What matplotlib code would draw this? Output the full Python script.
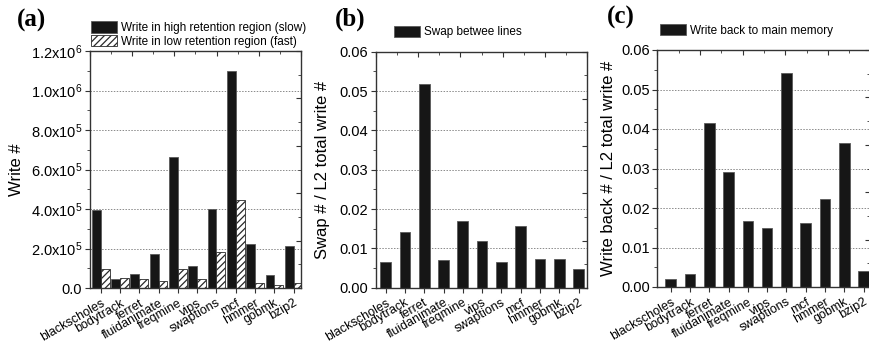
import matplotlib
matplotlib.use("Agg")
import matplotlib.pyplot as plt
import numpy as np
from matplotlib.ticker import MultipleLocator, FuncFormatter
from matplotlib.patches import Patch

plt.rcParams['font.family'] = ['Liberation Sans', 'DejaVu Sans']
plt.rcParams['mathtext.default'] = 'regular'
plt.rcParams['hatch.linewidth'] = 0.9

benchmarks = ["blackscholes", "bodytrack", "ferret", "fluidanimate", "freqmine",
              "vips", "swaptions", "mcf", "hmmer", "gobmk", "bzip2"]

write_slow = [397e3, 44e3, 69e3, 172e3, 663e3, 113e3, 398e3, 1097e3, 221e3, 64e3, 215e3]
write_fast = [98e3, 53e3, 48e3, 35e3, 98e3, 44e3, 182e3, 448e3, 27e3, 14e3, 27e3]

swap_ratio = [0.0065, 0.0142, 0.0517, 0.0070, 0.0170, 0.0118, 0.0065, 0.0158,
              0.0073, 0.0073, 0.0048]

writeback_ratio = [0.0020, 0.0033, 0.0416, 0.0292, 0.0166, 0.0150, 0.0542, 0.0161,
                   0.0223, 0.0365, 0.0041]

W, H = 870, 344
fig = plt.figure(figsize=(W / 100, H / 100), dpi=100)

BAR = '#161616'
EDGE = '#5a5a5a'
HATCH_EDGE = '#2a2a2a'
SPINE = '#333333'


def px_axes(x0, y_top, x1, y_bot):
    return fig.add_axes([x0 / W, 1 - y_bot / H, (x1 - x0) / W, (y_bot - y_top) / H])


def style(ax, ymax, major, minor):
    ax.set_ylim(0, ymax)
    ax.yaxis.set_major_locator(MultipleLocator(major))
    ax.yaxis.set_minor_locator(MultipleLocator(minor))
    ax.set_xticks(np.arange(len(benchmarks)))
    ax.set_xticklabels(benchmarks, rotation=30, ha='right', va='top',
                       rotation_mode='anchor', fontsize=9)
    ax.tick_params(axis='x', which='major', direction='out', length=3.5, pad=3,
                   color=SPINE, top=False)
    ax.tick_params(axis='y', which='major', direction='out', length=3.5, pad=2,
                   labelsize=10.5, color=SPINE, right=False)
    ax.tick_params(axis='y', which='minor', direction='out', length=2,
                   color=SPINE, right=False)
    ax.yaxis.grid(True, which='major', linestyle=(0, (1.5, 1.5)),
                  color='#8a8a8a', linewidth=0.7)
    ax.set_axisbelow(True)
    for s in ax.spines.values():
        s.set_color(SPINE)
        s.set_linewidth(1.0)
    # mirrored tick marks on the top and right edges
    tx = ax.twiny()
    tx.set_xlim(0, 10)
    tx.xaxis.set_major_locator(MultipleLocator(2))
    tx.xaxis.set_minor_locator(MultipleLocator(1))
    tx.tick_params(axis='x', which='major', direction='in', length=3.5,
                   labeltop=False, color=SPINE)
    tx.tick_params(axis='x', which='minor', direction='in', length=2, color=SPINE)
    ty = ax.twinx()
    ty.set_ylim(0, 10)
    ty.yaxis.set_major_locator(MultipleLocator(2))
    ty.yaxis.set_minor_locator(MultipleLocator(1))
    ty.tick_params(axis='y', which='major', direction='in', length=3.5,
                   labelright=False, color=SPINE)
    ty.tick_params(axis='y', which='minor', direction='in', length=2, color=SPINE)
    for t in (tx, ty):
        for s in t.spines.values():
            s.set_visible(False)


def sci_fmt(v, pos):
    if v == 0:
        return '0.0'
    e = int(np.floor(np.log10(abs(v))))
    m = v / 10 ** e
    return f'{m:.1f}x10$^{{{e}}}$'


x = np.arange(len(benchmarks))

# (a) writes split by retention region
axa = px_axes(90, 51, 301, 288)
bw = 0.46
axa.bar(x - bw / 2, write_slow, bw, color=BAR, edgecolor=EDGE, linewidth=0.6, zorder=2)
axa.bar(x + bw / 2, write_fast, bw, color='white', edgecolor=HATCH_EDGE, hatch='/////',
        linewidth=0.6, zorder=2)
axa.set_xlim(-0.554, 10.378)
style(axa, 1.2e6, 2e5, 1e5)
axa.yaxis.set_major_formatter(FuncFormatter(sci_fmt))
axa.set_ylabel('Write #', fontsize=12, va='center')
axa.yaxis.set_label_coords(-0.35, 0.5)
handles = [Patch(facecolor=BAR, edgecolor=EDGE, linewidth=0.6),
           Patch(facecolor='white', edgecolor=HATCH_EDGE, hatch='/////', linewidth=0.6)]
fig.legend(handles, ['Write in high retention region (slow)',
                     'Write in low retention region (fast)'],
           loc='lower left', bbox_to_anchor=(90.7 / W, 1 - 47.7 / H),
           frameon=False, fontsize=8.5, handlelength=2.2, handleheight=1.1,
           handletextpad=0.35, labelspacing=0.08, borderpad=0, borderaxespad=0)

# (b) swaps between lines
axb = px_axes(376, 51.7, 587, 287.7)
axb.bar(x, swap_ratio, 0.55, color=BAR, edgecolor=EDGE, linewidth=0.6, zorder=2)
axb.set_xlim(-0.5, 10.44)
style(axb, 0.06, 0.01, 0.005)
axb.yaxis.set_major_formatter(FuncFormatter(lambda v, p: f'{v:.2f}'))
axb.set_ylabel('Swap # / L2 total write #', fontsize=12, va='center')
axb.yaxis.set_label_coords(-0.254, 0.5)
fig.legend([Patch(facecolor=BAR, edgecolor=EDGE, linewidth=0.6)], ['Swap betwee lines'],
           loc='lower left', bbox_to_anchor=(394 / W, 1 - 38.3 / H),
           frameon=False, fontsize=8.5, handlelength=2.2, handleheight=1.1,
           handletextpad=0.35, borderpad=0, borderaxespad=0)

# (c) write-backs to main memory
axc = px_axes(657.3, 50, 870.5, 287)
axc.bar(x, writeback_ratio, 0.55, color=BAR, edgecolor=EDGE, linewidth=0.6, zorder=2)
axc.set_xlim(-0.7, 10.36)
style(axc, 0.06, 0.01, 0.005)
axc.yaxis.set_major_formatter(FuncFormatter(lambda v, p: f'{v:.2f}'))
axc.set_ylabel('Write back # / L2 total write #', fontsize=12, va='center')
axc.yaxis.set_label_coords(-0.228, 0.5)
fig.legend([Patch(facecolor=BAR, edgecolor=EDGE, linewidth=0.6)],
           ['Write back to main memory'],
           loc='lower left', bbox_to_anchor=(660 / W, 1 - 36.7 / H),
           frameon=False, fontsize=8.5, handlelength=2.2, handleheight=1.1,
           handletextpad=0.35, borderpad=0, borderaxespad=0)

# panel letters
for label, px, py in [('(a)', 16.7, 20), ('(b)', 335, 19), ('(c)', 606.7, 17)]:
    fig.text(px / W, 1 - py / H, label, fontsize=18, fontweight='bold',
             family='Liberation Serif', ha='left', va='center')

fig.savefig('out.png', dpi=100)
